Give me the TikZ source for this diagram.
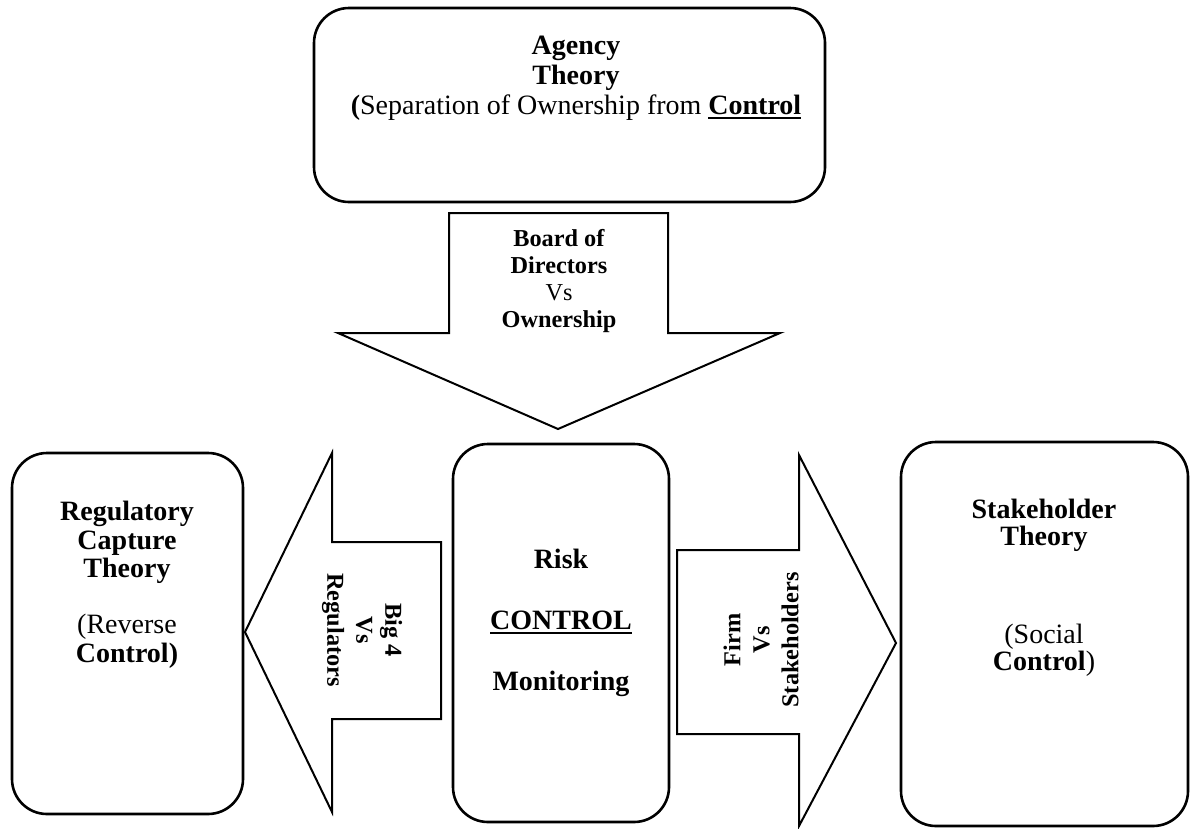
\documentclass[tikz,border=0pt]{standalone}
\usepackage{fontspec}
\setmainfont{Liberation Serif}
\newcommand\myul[1]{\setbox0\hbox{#1}\rlap{\vrule width \wd0 height -2pt depth 4.5pt}\box0}
\tikzset{
  box/.style={draw, line width=2.6pt, rounded corners=35pt, inner sep=0pt},
  blockarrow/.style={draw, line width=2pt, line join=miter},
  big/.style={font=\fontsize{28}{30}\selectfont, align=center, inner sep=0pt},
  small/.style={font=\fontsize{24.3}{27}\selectfont, align=center, inner sep=0pt},
  rot/.style={align=center, inner sep=0pt, font=\bfseries\fontsize{24.3}{29}\selectfont},
}
\begin{document}
\begin{tikzpicture}[x=1pt,y=-1pt]
\useasboundingbox (0,0) rectangle (1190,828);
% boxes
\node[box, minimum width=511pt, minimum height=194pt] (agency) at (569.5,105) {};
\node[box, minimum width=231pt, minimum height=361pt] (reg) at (127.5,633.5) {};
\node[box, minimum width=216pt, minimum height=378pt] (risk) at (561,633) {};
\node[box, minimum width=287pt, minimum height=384pt] (stake) at (1044.5,634) {};
% block arrows
\draw[blockarrow] (449,213) -- (668,213) -- (668,333) -- (780,333) -- (558,429) -- (338,333) -- (449,333) -- cycle;
\draw[blockarrow] (441,542) -- (441,719) -- (332,719) -- (332,812) -- (245,632) -- (332,453) -- (332,542) -- cycle;
\draw[blockarrow] (677,550) -- (799,550) -- (799,455) -- (896,643) -- (799,826) -- (799,734) -- (677,734) -- cycle;
% texts
\node[big, anchor=north] (agencyT) at (576,36) {\textbf{Agency}\\\textbf{Theory}\\\textbf{(}Separation of Ownership from \textbf{\myul{Control}}};
\node[small, anchor=north] (bodT) at (559,229.5) {\textbf{Board of}\\\textbf{Directors}\\Vs\\\textbf{Ownership}};
\node[big, anchor=north, font=\fontsize{28}{61}\selectfont] (riskT) at (561,549) {\textbf{Risk}\\\textbf{\myul{CONTROL}}\\\textbf{Monitoring}};
\node[big, anchor=north, font=\fontsize{28}{28.5}\selectfont] (regT) at (127,501) {\textbf{Regulatory}\\\textbf{Capture}\\\textbf{Theory}};
\node[big, anchor=north, font=\fontsize{28}{29}\selectfont] (regS) at (127,614) {(Reverse\\\textbf{Control)}};
\node[big, anchor=north, font=\fontsize{28}{27}\selectfont] (stT) at (1044,499) {\textbf{Stakeholder}\\\textbf{Theory}};
\node[big, anchor=north, font=\fontsize{28}{27}\selectfont] (stS) at (1044,624) {(Social\\\textbf{Control})};
\node[rot, rotate=-90] (bigT) at (362,630) {Big 4\\Vs\\Regulators};
\node[rot, rotate=90] (firmT) at (761,640) {Firm\\Vs\\Stakeholders};
\end{tikzpicture}
\end{document}
